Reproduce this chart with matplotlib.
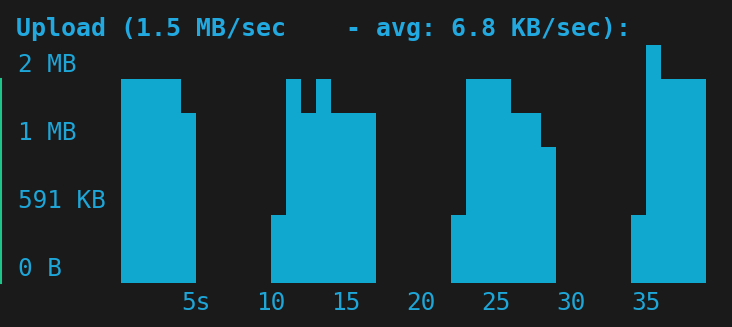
import matplotlib
matplotlib.use("Agg")
import matplotlib.pyplot as plt

# upload graph, one column per second, height in terminal cells
seconds = list(range(1, 40))
cells = [6, 6, 6, 6, 5, 0, 0, 0, 0, 0,
         2, 6, 5, 6, 5, 5, 5, 0, 0, 0,
         0, 0, 2, 6, 6, 6, 5, 5, 4, 0,
         0, 0, 0, 0, 2, 7, 6, 6, 6]
y_pos = [0.5, 2.5, 4.5, 6.5]
y_labels = ['0 B', '591 KB', '1 MB', '2 MB']
x_ticks = [5, 10, 15, 20, 25, 30, 35]
x_labels = ['5s', '10', '15', '20', '25', '30', '35']
title = 'Upload (1.5 MB/sec    - avg: 6.8 KB/sec):'

bg = '#1a1a1a'
fg = '#1ea6d8'
bar_col = '#11a8cf'
mono = 'DejaVu Sans Mono'

fig = plt.figure(figsize=(7.32, 3.27), dpi=100, facecolor=bg)
ax = fig.add_axes([121/732, 44/327, 585/732, 238/327])
ax.set_facecolor(bg)
ax.bar(seconds, cells, width=1.0, color=bar_col, linewidth=0)
ax.set_xlim(0.5, 39.5)
ax.set_ylim(0, 7)

ax.set_yticks(y_pos)
ax.set_yticklabels(y_labels, family=mono, fontsize=17.6, color=fg, ha='left')
ax.tick_params(axis='y', length=0, pad=74.5)
ax.set_xticks([t - 0.5 for t in x_ticks])
ax.set_xticklabels(x_labels, family=mono, fontsize=17.6, color=fg, ha='left')
ax.tick_params(axis='x', length=0, pad=5.5)
for s in ax.spines.values():
    s.set_visible(False)

fig.text(16/732, 1 - 29/327, title, family=mono, fontsize=17.9,
         fontweight='bold', color='#22a9e0', va='center', ha='left')
# green marker on the left edge
fig.add_artist(plt.Line2D([1/732, 1/732], [44/327, 248/327],
                          color='#1fc48a', linewidth=1.5))

fig.savefig('out.png', dpi=100, facecolor=bg)
